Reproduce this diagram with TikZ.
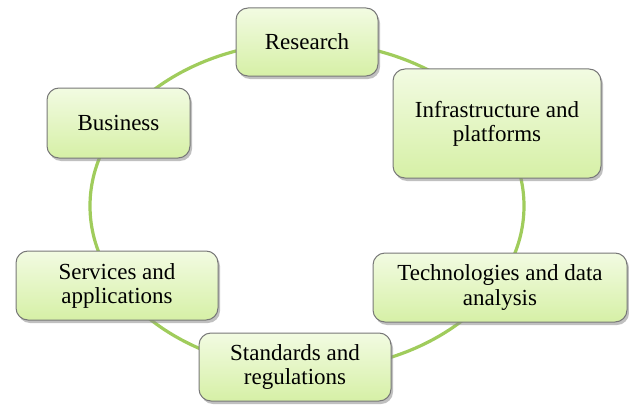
\documentclass[tikz,border=0pt]{standalone}
\usepackage{fontspec}
\setmainfont{Liberation Serif}
\usetikzlibrary{shadows}
\definecolor{ringgreen}{RGB}{160,204,92}
\definecolor{boxtop}{RGB}{242,251,226}
\definecolor{boxbot}{RGB}{214,240,166}
\definecolor{boxline}{RGB}{120,120,120}
\tikzset{
  topic/.style={draw=boxline, line width=1pt, rounded corners=12pt,
    top color=boxtop, bottom color=boxbot, align=center,
    font=\rmfamily\fontsize{23}{24}\selectfont, inner sep=0pt,
    drop shadow={shadow xshift=2pt, shadow yshift=-3pt, fill=black!45, opacity=0.55}},
  ring/.style={draw=ringgreen, line width=3.2pt}
}
\begin{document}
\begin{tikzpicture}[x=1pt,y=1pt]
\useasboundingbox (0,0) rectangle (629,408);
\draw[ring] (307,202) ellipse [x radius=217, y radius=164];
\node[topic, minimum width=142pt, minimum height=68pt] (research) at (307,366) {Research};
\node[topic, minimum width=208pt, minimum height=109pt] (infra) at (497,284.5) {Infrastructure and\\platforms};
\node[topic, minimum width=254pt, minimum height=69pt] (tech) at (500,120.5) {Technologies and data\\analysis};
\node[topic, minimum width=192pt, minimum height=68pt] (standards) at (295,41) {Standards and\\regulations};
\node[topic, minimum width=202pt, minimum height=69pt] (services) at (117,122.5) {Services and\\applications};
\node[topic, minimum width=143pt, minimum height=70pt] (business) at (118.5,285) {Business};
\end{tikzpicture}
\end{document}
